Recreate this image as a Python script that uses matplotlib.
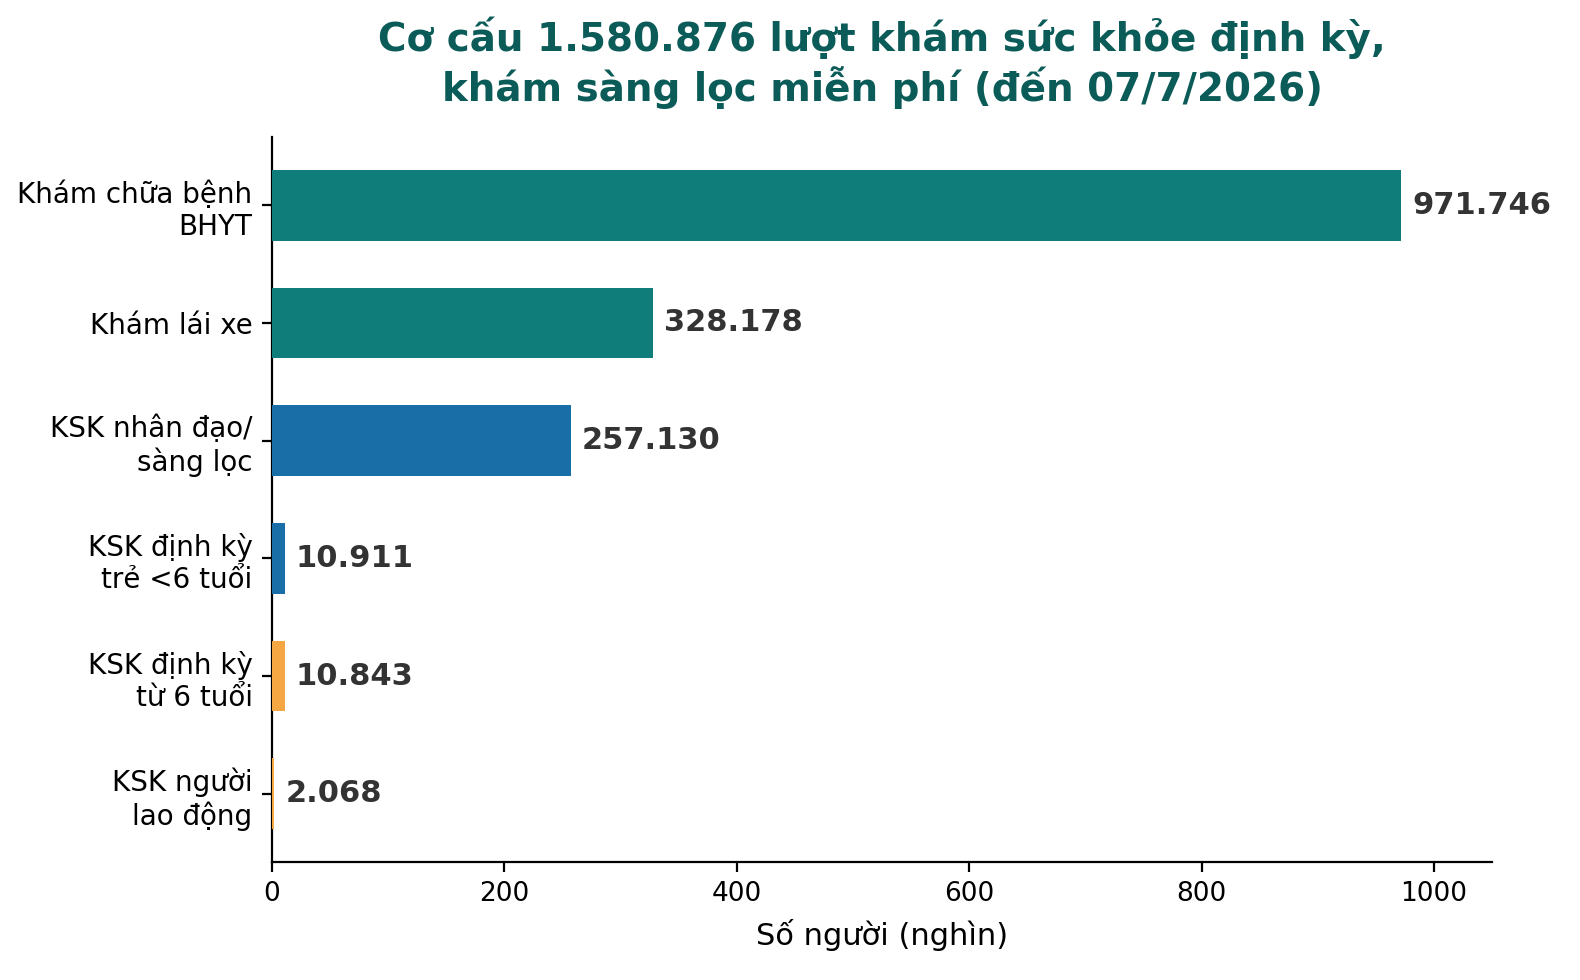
import matplotlib
matplotlib.use("Agg")
import matplotlib.pyplot as plt

categories = ["Khám chữa bệnh\nBHYT", "Khám lái xe", "KSK nhân đạo/\nsàng lọc",
              "KSK định kỳ\ntrẻ <6 tuổi", "KSK định kỳ\ntừ 6 tuổi", "KSK người\nlao động"]
values = [971.746, 328.178, 257.130, 10.911, 10.843, 2.068]
labels = ["971.746", "328.178", "257.130", "10.911", "10.843", "2.068"]
colors = ["#0F7D7A", "#0F7D7A", "#1A6EA8", "#1A6EA8", "#F4A742", "#F4A742"]

fig = plt.figure(figsize=(7.9, 4.9), dpi=200)
ax = fig.add_axes([272/1580, 1-862/980, (1492-272)/1580, (862-137)/980])
y = list(range(len(categories)))
ax.barh(y, values, height=0.6, color=colors, zorder=3)
ax.invert_yaxis()
ax.set_yticks(y)
ax.set_yticklabels(categories, fontsize=10)
ax.tick_params(axis='x', labelsize=9.5)
ax.set_xlim(0, 1050)
for yi, v, lab in zip(y, values, labels):
    ax.annotate(lab, (v, yi), xytext=(4, 0), textcoords="offset points",
                va="center", ha="left", fontsize=11, fontweight="bold", color="#333333")
ax.set_xlabel("Số người (nghìn)", fontsize=11)
ax.spines["top"].set_visible(False)
ax.spines["right"].set_visible(False)
ax.set_title("Cơ cấu 1.580.876 lượt khám sức khỏe định kỳ,\nkhám sàng lọc miễn phí (đến 07/7/2026)",
             fontsize=14, fontweight="bold", color="#0B5C59", pad=13)
fig.savefig("out.png", dpi=200)
